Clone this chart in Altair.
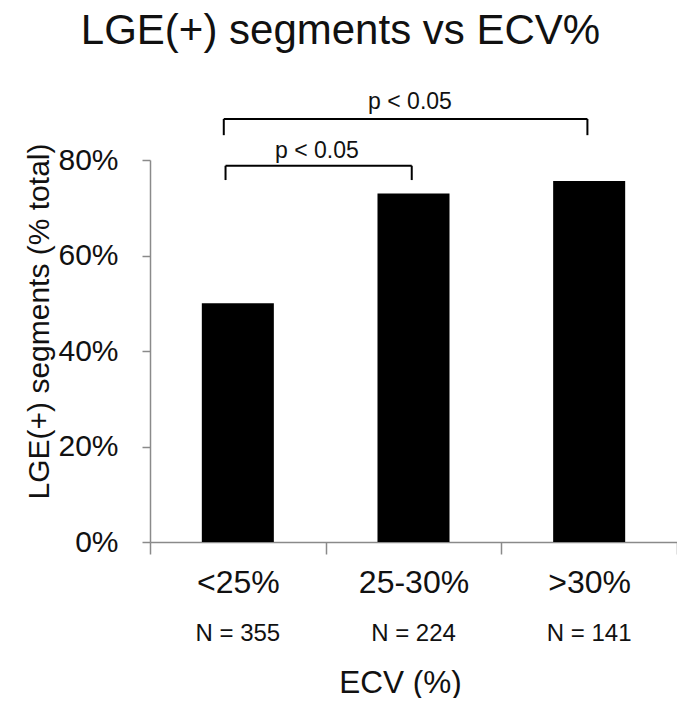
import altair as alt
import pandas as pd

FONT = "Liberation Sans"
TXT = "#111111"
AXC = "#8a8a8a"

# ---- data ----
categories = ["<25%", "25-30%", ">30%"]
lge_pct = [0.50, 0.73, 0.756]
n_segments = [355, 224, 141]

# significance brackets, x on a 0-3 category position scale (centres at 0.5, 1.5, 2.5)
bracket_left = [0.43, 0.42]
bracket_right = [1.49, 2.49]
bracket_top = [0.788, 0.886]
bracket_foot = [0.758, 0.852]
bracket_label = ["p < 0.05", "p < 0.05"]
bracket_label_x = [0.95, 1.48]
bracket_label_y = [0.804, 0.907]

bars = pd.DataFrame({
    "ECV": categories,
    "pct": lge_pct,
    "N": [f"N = {n}" for n in n_segments],
})
hdf = pd.DataFrame({"x1": bracket_left, "x2": bracket_right, "pct": bracket_top})
vdf = pd.DataFrame({
    "x": bracket_left + bracket_right,
    "pct": bracket_top + bracket_top,
    "y2": bracket_foot + bracket_foot,
})
pdf = pd.DataFrame({"x": bracket_label_x, "pct": bracket_label_y, "t": bracket_label})

yscale = alt.Scale(domain=[0, 0.8])
xband = alt.Scale(paddingInner=0, paddingOuter=0)
xpos = alt.Scale(domain=[0, 3], nice=False, zero=False)

yaxis = alt.Axis(title="LGE(+) segments  (% total)", format=".0%",
                 values=[0, 0.2, 0.4, 0.6, 0.8], tickSize=8, labelPadding=24,
                 labelFontSize=30, titleFontSize=30, titleX=-102, titleY=161,
                 titleBaseline="alphabetic", titleAngle=270)

bar = alt.Chart(bars).mark_bar(color="black", width=alt.RelativeBandSize(0.41)).encode(
    x=alt.X("ECV:N", sort=categories, scale=xband,
            axis=alt.Axis(title="ECV (%)", labelAngle=0, tickBand="extent",
                          tickSize=12, labelPadding=38, labelBaseline="alphabetic",
                          labelFontSize=32, titleFontSize=31.5, titleX=250, titleY=150,
                          titleBaseline="alphabetic")),
    y=alt.Y("pct:Q", scale=yscale, axis=yaxis),
)

ntext = alt.Chart(bars).mark_text(fontSize=24, font=FONT, color=TXT, baseline="alphabetic").encode(
    x=alt.X("ECV:N", sort=categories, scale=xband, axis=None),
    y=alt.value(481),
    text="N:N",
)

hrule = alt.Chart(hdf).mark_rule(color="black", strokeWidth=2).encode(
    x=alt.X("x1:Q", scale=xpos, axis=None),
    x2="x2:Q",
    y=alt.Y("pct:Q", scale=yscale, axis=yaxis),
)
vrule = alt.Chart(vdf).mark_rule(color="black", strokeWidth=2).encode(
    x=alt.X("x:Q", scale=xpos, axis=None),
    y=alt.Y("pct:Q", scale=yscale, axis=yaxis),
    y2="y2:Q",
)
ptext = alt.Chart(pdf).mark_text(fontSize=23, font=FONT, color=TXT, baseline="alphabetic").encode(
    x=alt.X("x:Q", scale=xpos, axis=None),
    y=alt.Y("pct:Q", scale=yscale, axis=yaxis),
    text="t:N",
)

chart = alt.layer(bar, ntext, hrule, vrule, ptext).resolve_scale(x="independent").properties(
    width=527,
    height=382,
    padding={"left": 142, "top": 152, "right": 0, "bottom": 156},
    autosize=alt.AutoSizeParams(type="none"),
    title=alt.TitleParams("LGE(+) segments vs ECV%", fontSize=42, font=FONT,
                          fontWeight="normal", color=TXT, anchor="middle",
                          frame="group", dx=-73, offset=5, baseline="alphabetic"),
).configure_view(stroke=None).configure_axis(
    grid=False, labelFont=FONT, titleFont=FONT, labelColor=TXT, titleColor=TXT,
    titleFontWeight="normal", domainColor=AXC, tickColor=AXC, domainWidth=1.5, tickWidth=1.5,
)

chart.save("out.html", embed_options={"renderer": "svg", "actions": False})
